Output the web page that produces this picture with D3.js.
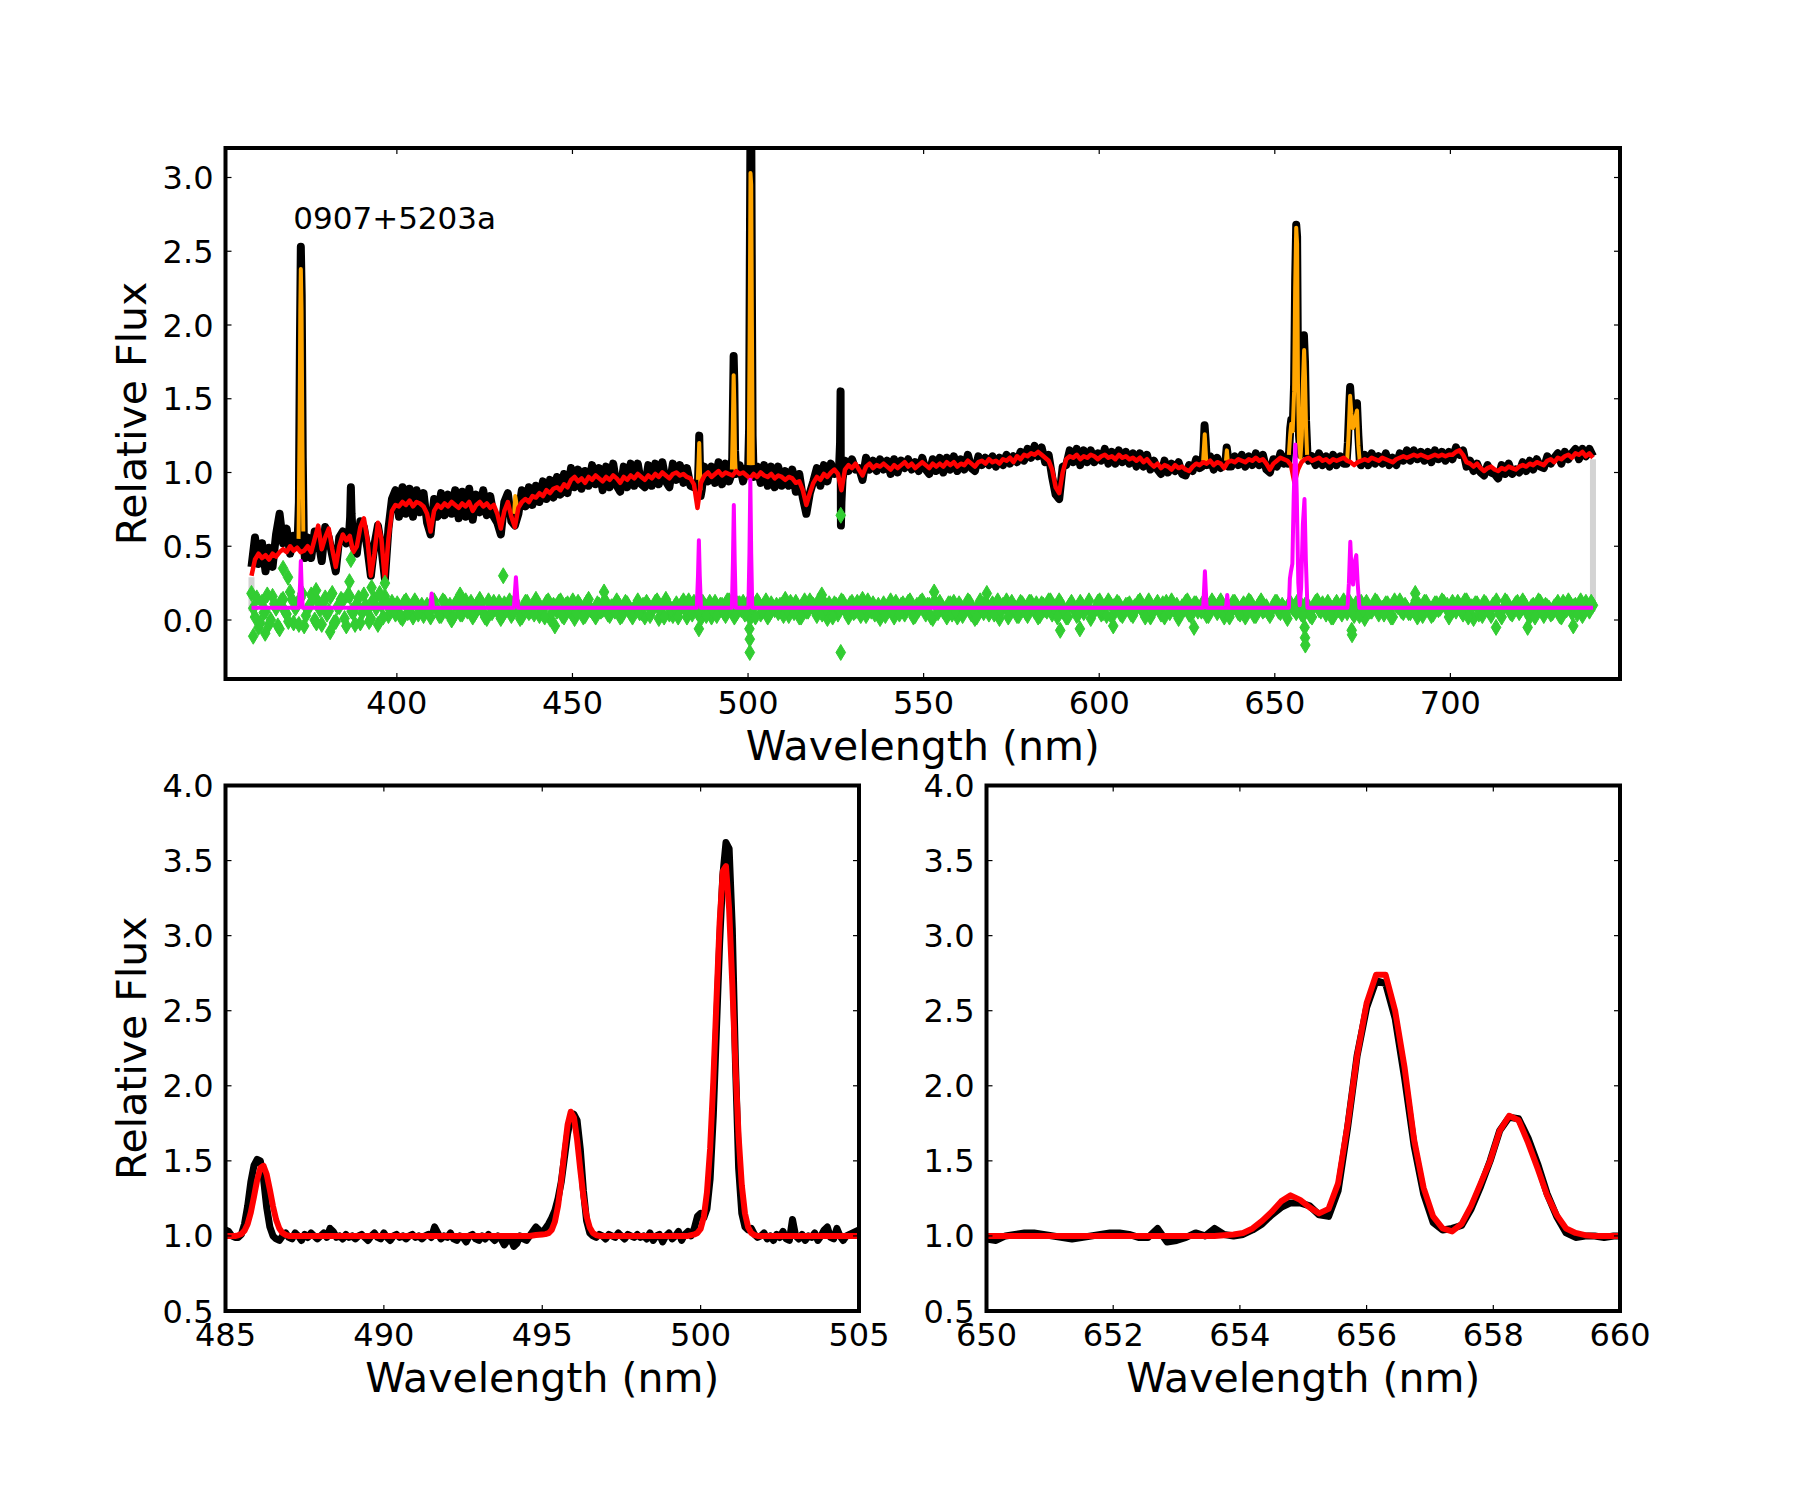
<!DOCTYPE html>
<html><head><meta charset="utf-8">
<script src="https://cdn.jsdelivr.net/npm/d3@7"></script>
<style>body{margin:0;background:#fff} text{font-family:"DejaVu Sans",sans-serif;fill:#000}</style>
</head><body><svg id="c" width="1800" height="1500"></svg>
<script>
// ---------------- DATA ----------------
const objectName = "0907+5203a";
const namePos = [370.5, 2.65];

// full spectrum, sampled every 1 nm from 358.6 nm
const waveStart = 358.6, waveStep = 1;
const observedFlux = [
0.36,0.56,0.38,0.52,0.33,0.49,0.36,0.58,0.72,0.52,
0.62,0.45,0.57,0.50,0.46,0.40,0.56,0.42,0.60,0.55,
0.40,0.63,0.56,0.44,0.33,0.56,0.60,0.52,0.62,0.50,
0.45,0.67,0.63,0.49,0.30,0.51,0.64,0.49,0.28,0.62,
0.82,0.88,0.70,0.90,0.72,0.89,0.70,0.88,0.73,0.86,
0.66,0.58,0.82,0.70,0.86,0.71,0.85,0.72,0.88,0.69,
0.87,0.70,0.89,0.68,0.85,0.73,0.88,0.71,0.84,0.70,
0.66,0.58,0.80,0.86,0.67,0.64,0.72,0.88,0.77,0.90,
0.78,0.91,0.80,0.94,0.82,0.95,0.83,0.97,0.85,0.99,
0.86,1.03,0.90,1.02,0.89,1.01,0.91,1.05,0.92,1.03,
0.88,1.04,0.90,1.06,0.91,0.87,1.04,0.90,1.06,0.91,
1.06,0.92,0.90,1.05,0.91,1.06,0.92,1.07,0.94,0.90,
1.06,0.95,1.05,0.93,1.03,0.91,0.90,0.86,0.89,1.04,
0.94,1.04,0.93,1.07,0.92,1.06,0.94,1.03,0.95,1.05,
0.94,1.03,0.95,0.92,1.04,0.93,1.05,0.91,1.04,0.90,
1.04,0.91,1.01,0.91,1.02,0.87,0.99,0.83,0.72,0.86,
0.94,1.03,0.91,1.05,0.94,1.06,0.99,1.04,0.85,1.08,
1.01,1.09,1.02,1.03,0.95,1.10,1.02,1.08,1.01,1.09,
1.02,1.08,0.99,1.09,1.00,1.08,1.03,1.09,1.02,1.07,
1.01,1.10,1.02,0.99,1.09,1.01,1.10,1.00,1.10,1.02,
1.11,1.01,1.09,1.02,1.12,1.03,1.01,1.11,1.05,1.10,
1.05,1.11,1.04,1.10,1.05,1.12,1.06,1.11,1.07,1.14,
1.08,1.16,1.10,1.18,1.11,1.17,1.07,1.12,0.97,0.85,
0.82,1.04,1.05,1.15,1.07,1.16,1.05,1.15,1.07,1.15,
1.07,1.13,1.08,1.16,1.06,1.14,1.06,1.15,1.07,1.14,
1.06,1.13,1.04,1.13,1.04,1.12,1.02,1.08,1.02,0.99,
1.08,1.00,1.06,1.01,1.07,0.99,0.98,1.05,1.01,1.09,
1.03,1.10,1.02,1.11,1.02,1.10,1.03,1.07,1.10,1.04,
1.11,1.05,1.12,1.04,1.11,1.05,1.13,1.05,1.12,1.02,
1.00,1.09,1.04,1.13,1.06,1.11,1.07,0.95,1.04,1.05,
1.12,1.06,1.11,1.05,1.13,1.05,1.11,1.04,1.12,1.05,
1.11,1.06,1.10,1.04,1.03,1.10,1.05,1.12,1.05,1.13,
1.06,1.11,1.06,1.13,1.05,1.10,1.05,1.13,1.08,1.15,
1.08,1.15,1.09,1.14,1.08,1.14,1.07,1.15,1.09,1.14,
1.08,1.14,1.09,1.17,1.12,1.15,1.04,1.08,1.01,1.06,
1.00,0.98,1.05,1.00,0.99,0.96,1.05,0.99,1.06,0.99,
1.02,1.00,1.07,1.01,1.08,1.02,1.09,1.04,1.03,1.11,
1.06,1.10,1.13,1.06,1.14,1.09,1.13,1.16,1.09,1.16,
1.11,1.16,1.11];

const modelFlux = [
0.30,0.41,0.45,0.42,0.44,0.41,0.45,0.43,0.46,0.48,
0.46,0.50,0.47,0.49,0.46,0.47,0.50,0.46,0.55,0.64,
0.48,0.56,0.62,0.48,0.36,0.50,0.58,0.54,0.57,0.46,
0.50,0.63,0.69,0.55,0.30,0.45,0.66,0.55,0.26,0.55,
0.74,0.78,0.77,0.80,0.78,0.81,0.77,0.80,0.79,0.77,
0.72,0.60,0.74,0.78,0.76,0.79,0.77,0.80,0.78,0.76,
0.79,0.77,0.80,0.74,0.78,0.80,0.77,0.79,0.76,0.78,
0.72,0.62,0.74,0.80,0.70,0.63,0.76,0.80,0.82,0.80,
0.84,0.83,0.86,0.84,0.88,0.86,0.89,0.90,0.88,0.92,
0.90,0.95,0.97,0.94,0.96,0.93,0.97,0.95,0.98,0.96,
0.94,0.97,0.95,0.98,0.96,0.93,0.97,0.95,0.98,0.96,
0.99,0.97,0.95,0.98,0.96,0.99,0.97,1.00,0.98,0.96,
0.99,1.00,0.98,0.99,0.97,0.96,0.92,0.76,0.93,0.98,
1.00,0.97,0.99,1.01,0.98,1.00,0.99,0.98,1.01,0.99,
1.00,0.98,0.96,0.99,0.97,1.00,0.98,0.97,0.99,0.96,
0.98,0.97,0.95,0.97,0.96,0.93,0.94,0.88,0.78,0.86,
0.93,0.97,0.95,0.99,0.97,1.00,1.02,0.99,0.88,1.02,
1.05,1.03,1.06,1.02,0.98,1.04,1.06,1.03,1.05,1.04,
1.06,1.04,1.02,1.05,1.03,1.05,1.07,1.04,1.06,1.03,
1.05,1.07,1.05,1.03,1.06,1.04,1.06,1.04,1.07,1.05,
1.07,1.04,1.06,1.05,1.08,1.06,1.04,1.07,1.08,1.06,
1.09,1.07,1.08,1.06,1.09,1.08,1.10,1.07,1.11,1.09,
1.12,1.11,1.13,1.12,1.14,1.12,1.10,1.08,1.02,0.90,
0.86,1.00,1.09,1.11,1.10,1.12,1.09,1.11,1.10,1.12,
1.11,1.09,1.11,1.12,1.10,1.11,1.09,1.12,1.10,1.11,
1.09,1.10,1.08,1.10,1.07,1.09,1.06,1.04,1.06,1.03,
1.05,1.04,1.02,1.05,1.03,1.04,1.02,1.01,1.04,1.06,
1.05,1.07,1.06,1.08,1.05,1.07,1.06,1.03,1.07,1.08,
1.07,1.09,1.08,1.07,1.09,1.08,1.10,1.08,1.09,1.06,
1.02,1.06,1.08,1.10,1.09,1.08,1.05,0.93,1.02,1.07,
1.09,1.10,1.08,1.09,1.10,1.08,1.09,1.07,1.09,1.08,
1.09,1.10,1.08,1.07,1.05,1.07,1.08,1.09,1.08,1.10,
1.09,1.08,1.10,1.09,1.08,1.07,1.09,1.10,1.11,1.10,
1.11,1.12,1.11,1.12,1.11,1.10,1.11,1.12,1.11,1.12,
1.11,1.12,1.12,1.14,1.15,1.12,1.07,1.06,1.04,1.06,
1.03,1.01,1.03,1.04,1.02,1.01,1.03,1.02,1.04,1.03,
1.02,1.04,1.05,1.04,1.06,1.05,1.07,1.06,1.05,1.08,
1.09,1.07,1.10,1.09,1.11,1.12,1.10,1.13,1.12,1.14,
1.11,1.13,1.10];

// residuals (offset), every 1 nm from 358.6 nm
const residual = [
0.18,0.02,-0.05,0.12,0.06,-0.03,0.16,0.08,-0.06,0.14,
0.04,0.19,-0.02,0.10,0.15,-0.04,0.07,0.17,0.00,0.12,
-0.03,0.15,0.06,0.18,-0.01,0.09,0.13,-0.04,0.16,0.05,
0.11,-0.02,0.17,0.07,0.01,0.14,-0.03,0.10,0.16,0.03,
0.12,0.04,0.09,0.01,0.13,0.06,0.02,0.11,0.07,0.03,
0.10,0.02,0.13,0.07,0.03,0.12,0.05,0.00,0.11,0.08,
0.04,0.13,0.08,0.02,0.10,0.14,0.05,0.01,0.09,0.12,
0.06,0.01,0.11,0.08,0.03,0.13,0.07,0.02,0.12,0.05,
0.09,0.14,0.03,0.07,0.12,0.01,0.10,0.06,0.13,0.02,
0.11,0.05,0.01,0.12,0.08,0.03,0.14,0.06,0.02,0.10,
0.07,0.12,0.03,0.09,0.13,0.02,0.06,0.11,0.04,0.08,
0.13,0.05,0.02,0.10,0.07,0.12,0.01,0.09,0.14,0.04,
0.03,0.11,0.07,0.13,0.02,0.08,0.12,0.05,0.01,0.10,
0.08,0.02,0.12,0.06,0.10,0.03,0.13,0.07,0.04,0.11,
0.12,0.06,0.01,0.09,0.13,0.04,0.08,0.02,0.11,0.07,
0.05,0.10,0.14,0.03,0.07,0.12,0.02,0.09,0.06,0.13,
0.10,0.03,0.08,0.12,0.01,0.06,0.11,0.04,0.13,0.07,
0.02,0.12,0.06,0.09,0.14,0.03,0.07,0.11,0.05,0.01,
0.11,0.07,0.13,0.02,0.08,0.10,0.04,0.12,0.06,0.03,
0.07,0.13,0.04,0.10,0.01,0.09,0.12,0.06,0.02,0.11,
0.12,0.02,0.09,0.06,0.13,0.04,0.01,0.10,0.07,0.12,
0.04,0.11,0.07,0.01,0.10,0.13,0.05,0.08,0.03,0.12,
0.09,0.03,0.12,0.06,0.02,0.11,0.07,0.13,0.04,0.08,
0.13,0.06,0.02,0.10,0.08,0.03,0.12,0.05,0.09,0.01,
0.06,0.12,0.04,0.09,0.13,0.02,0.07,0.11,0.03,0.10,
0.11,0.03,0.08,0.13,0.05,0.10,0.02,0.07,0.12,0.04,
0.02,0.10,0.13,0.06,0.01,0.09,0.12,0.04,0.08,0.11,
0.08,0.12,0.03,0.07,0.11,0.05,0.13,0.02,0.10,0.06,
0.12,0.05,0.09,0.02,0.13,0.07,0.03,0.11,0.06,0.09,
0.03,0.09,0.12,0.05,0.08,0.01,0.11,0.07,0.13,0.04,
0.10,0.06,0.02,0.12,0.07,0.11,0.04,0.09,0.02,0.12,
0.07,0.13,0.05,0.10,0.03,0.08,0.12,0.01,0.09,0.06,
0.13,0.04,0.08,0.11,0.06,0.02,0.10,0.13,0.05,0.08,
0.05,0.10,0.02,0.07,0.12,0.09,0.03,0.11,0.07,0.13,
0.09,0.02,0.12,0.06,0.10,0.04,0.13,0.07,0.01,0.11,
0.06,0.12,0.08,0.03,0.11,0.07,0.02,0.13,0.09,0.04,
0.11,0.05,0.13,0.08,0.02,0.10,0.06,0.12,0.03,0.09,
0.04,0.09,0.12,0.02,0.07,0.13,0.05,0.10,0.08,0.03,
0.12,0.06,0.10];

// residuals (offset) at the in-between pixels, every 1 nm from 359.1 nm
const residualMidStart = 359.1;
const residualMid = [
0.08,0.15,-0.02,0.05,0.17,0.00,0.11,-0.04,0.13,0.06,
-0.01,0.14,0.08,-0.03,0.18,0.03,0.10,0.15,-0.02,0.07,
0.12,0.04,0.16,-0.02,0.09,0.14,0.01,0.17,0.06,-0.03,
0.15,0.05,0.10,-0.01,0.13,0.08,0.18,0.02,0.11,0.07,
0.07,0.11,0.02,0.12,0.05,0.09,0.13,0.04,0.10,0.08,
0.05,0.12,0.08,0.03,0.13,0.06,0.10,0.02,0.12,0.04,
0.10,0.06,0.12,0.04,0.08,0.11,0.02,0.13,0.05,0.09,
0.12,0.03,0.07,0.13,0.05,0.10,0.01,0.08,0.12,0.06,
0.04,0.11,0.08,0.02,0.13,0.05,0.09,0.12,0.03,0.10,
0.08,0.13,0.05,0.10,0.02,0.12,0.07,0.04,0.11,0.06,
0.13,0.04,0.09,0.06,0.11,0.03,0.12,0.08,0.02,0.10,
0.05,0.10,0.12,0.03,0.08,0.13,0.06,0.02,0.11,0.07,
0.09,0.02,0.11,0.07,0.13,0.04,0.10,0.06,0.12,0.03,
0.12,0.06,0.03,0.10,0.05,0.13,0.08,0.02,0.11,0.07,
0.04,0.12,0.09,0.02,0.11,0.06,0.13,0.04,0.08,0.10,
0.10,0.03,0.07,0.12,0.05,0.09,0.02,0.13,0.06,0.11,
0.06,0.13,0.04,0.08,0.11,0.02,0.10,0.07,0.12,0.05,
0.11,0.05,0.12,0.03,0.09,0.13,0.06,0.04,0.10,0.08,
0.03,0.09,0.06,0.12,0.04,0.11,0.08,0.13,0.02,0.10,
0.12,0.07,0.10,0.02,0.13,0.05,0.09,0.06,0.11,0.04,
0.06,0.11,0.03,0.09,0.12,0.07,0.02,0.13,0.05,0.10,
0.09,0.04,0.13,0.06,0.10,0.02,0.12,0.08,0.03,0.11,
0.05,0.12,0.08,0.11,0.03,0.10,0.06,0.13,0.09,0.02,
0.11,0.06,0.02,0.12,0.07,0.04,0.10,0.08,0.13,0.05,
0.08,0.13,0.05,0.03,0.11,0.09,0.12,0.04,0.07,0.10,
0.04,0.09,0.12,0.07,0.02,0.13,0.05,0.10,0.08,0.11,
0.12,0.05,0.08,0.10,0.04,0.07,0.13,0.03,0.11,0.06,
0.06,0.10,0.03,0.13,0.08,0.11,0.05,0.09,0.02,0.12,
0.10,0.04,0.11,0.06,0.12,0.03,0.09,0.13,0.07,0.05,
0.07,0.12,0.06,0.10,0.04,0.11,0.08,0.05,0.12,0.03,
0.11,0.03,0.09,0.13,0.06,0.08,0.12,0.02,0.10,0.07,
0.04,0.10,0.13,0.05,0.11,0.03,0.07,0.12,0.06,0.09,
0.12,0.08,0.04,0.11,0.02,0.13,0.09,0.06,0.10,0.05,
0.07,0.13,0.10,0.03,0.12,0.06,0.04,0.11,0.08,0.12,
0.10,0.05,0.08,0.12,0.06,0.13,0.02,0.09,0.11,0.04,
0.03,0.11,0.06,0.10,0.13,0.04,0.08,0.12,0.05,0.09,
0.12,0.07,0.11,0.04,0.09,0.02,0.13,0.06,0.10,0.08,
0.05,0.10,0.03,0.12,0.07,0.11,0.09,0.04,0.13,0.06,
0.09,0.12];

// isolated residual points [wavelength, value]
const residualOutliers = [
[359.1,-0.11],[362.5,-0.09],[367.6,0.35],[369.0,0.29],[386.5,0.26],[386.9,0.41],
[392.8,0.22],[396.6,0.25],[430.3,0.30],[486.0,-0.06],[500.4,-0.06],[500.5,-0.13],
[500.5,-0.22],[526.4,0.71],[526.4,-0.22],[588.9,-0.07],[594.5,-0.06],[658.5,-0.05],
[658.6,-0.12],[658.7,-0.17],[671.9,-0.07],[672.0,-0.10],[459.0,0.19],[553.0,0.19],
[627.0,-0.05],[713.0,-0.05],[735.0,-0.04],[377.0,0.20],[381.0,-0.08],[418.0,0.17],
[445.0,-0.04],[521.0,0.17],[568.0,0.18],[604.0,-0.04],[690.0,0.18],[722.0,-0.05]];

// observed flux at emission lines (finer sampling) [wavelength, flux]
const observedLineWindows = [
[[371.7,0.50],[372.1,0.80],[372.4,1.90],[372.65,2.53],[372.9,2.20],[373.2,1.10],[373.5,0.55],[373.8,0.42]],
[[386.3,0.55],[386.7,0.70],[386.9,0.90],[387.1,0.72],[387.4,0.58]],
[[485.3,0.93],[485.7,0.90],[485.95,1.10],[486.1,1.25],[486.3,1.05],[486.5,0.84],[486.8,0.88],[487.1,0.94]],
[[495.2,0.98],[495.5,1.10],[495.7,1.45],[495.9,1.79],[496.1,1.60],[496.3,1.15],[496.6,0.99]],
[[500.0,1.00],[500.3,1.30],[500.5,2.40],[500.7,3.40],[500.9,3.45],[501.1,2.20],[501.3,1.25],[501.6,0.97]],
[[525.9,1.02],[526.2,1.20],[526.35,1.55],[526.45,0.64],[526.6,0.80],[526.9,0.95]],
[[629.3,1.04],[629.7,1.15],[630.0,1.32],[630.3,1.22],[630.7,1.05]],
[[635.9,1.06],[636.3,1.17],[636.6,1.12],[636.9,1.04]],
[[653.8,1.06],[654.1,1.15],[654.4,1.30],[654.7,1.36],[655.1,1.30],[655.5,1.60],[655.8,2.30],[656.1,2.68],[656.35,2.60],[656.6,1.70],[656.9,1.25],[657.3,1.12],[657.7,1.30],[658.0,1.70],[658.3,1.93],[658.6,1.75],[658.9,1.35],[659.3,1.12],[659.7,1.08]],
[[670.4,1.06],[670.8,1.20],[671.2,1.45],[671.45,1.58],[671.8,1.45],[672.2,1.34],[672.6,1.36],[673.0,1.42],[673.4,1.47],[673.8,1.25],[674.2,1.08],[674.5,1.05]]
];

// emission-line regions highlighted in orange
const emissionLineSegments = [
[[372.0,0.55],[372.3,1.30],[372.5,2.10],[372.65,2.38],[372.85,2.10],[373.1,1.20],[373.35,0.60]],
[[433.4,0.72],[433.7,0.84],[434.0,0.80],[434.2,0.70]],
[[485.7,0.95],[485.95,1.10],[486.1,1.20],[486.3,1.02],[486.45,0.88]],
[[495.4,1.02],[495.65,1.30],[495.9,1.66],[496.1,1.45],[496.3,1.10],[496.5,1.00]],
[[500.2,1.05],[500.45,1.90],[500.7,3.03],[500.9,2.95],[501.1,2.00],[501.35,1.05]],
[[629.6,1.08],[629.9,1.20],[630.05,1.26],[630.3,1.15],[630.5,1.07]],
[[636.1,1.08],[636.35,1.15],[636.6,1.08]],
[[654.0,1.12],[654.4,1.26],[654.7,1.33],[655.1,1.28],[655.5,1.55],[655.8,2.25],[656.1,2.66],[656.35,2.55],[656.6,1.60],[656.9,1.20],[657.3,1.10],[657.7,1.25],[658.0,1.60],[658.35,1.83],[658.6,1.65],[658.9,1.30],[659.2,1.12]],
[[670.6,1.08],[671.0,1.25],[671.45,1.52],[671.8,1.40],[672.2,1.30],[672.6,1.32],[673.0,1.38],[673.4,1.42],[673.8,1.18],[674.2,1.07]]
];

// emission-line model (offset) [wavelength, flux]
const emissionModel = [
[358.6,0.083],
[372.1,0.083],[372.45,0.25],[372.65,0.40],[372.85,0.25],[373.2,0.083],
[409.5,0.083],[409.9,0.18],[410.3,0.083],
[433.3,0.083],[433.65,0.20],[433.9,0.29],[434.15,0.20],[434.5,0.083],
[485.4,0.083],[485.75,0.30],[486.0,0.54],[486.25,0.30],[486.6,0.083],
[495.4,0.083],[495.7,0.40],[495.95,0.78],[496.2,0.40],[496.5,0.083],
[500.1,0.083],[500.4,0.45],[500.65,0.95],[500.9,0.45],[501.2,0.083],
[629.6,0.083],[629.85,0.20],[630.1,0.33],[630.35,0.20],[630.6,0.083],
[636.1,0.083],[636.45,0.17],[636.8,0.083],
[654.0,0.083],[654.3,0.28],[654.6,0.33],[655.0,0.38],[655.4,0.85],[655.85,1.19],[656.25,0.85],[656.7,0.25],[657.1,0.10],[657.5,0.22],[658.0,0.65],[658.45,0.82],[658.85,0.40],[659.3,0.083],
[670.7,0.083],[671.1,0.25],[671.5,0.53],[671.9,0.30],[672.3,0.24],[672.8,0.40],[673.2,0.44],[673.6,0.25],[674.1,0.083],
[740.6,0.083]];

// fit-range markers [wavelength, flux]
const fitRangeMarkers = [
[[358.6,0.06],[358.6,0.29]],
[[740.6,0.06],[740.6,1.09]]];

// zoom 1: Hbeta + [OIII], every 0.1 nm from 485.0
const zoom1Start = 485.0, zoom1Step = 0.1;
const zoom1Observed = [
1.04,1.03,1.00,0.99,0.99,1.01,1.08,1.20,1.36,1.47,
1.51,1.50,1.38,1.19,1.06,1.00,0.98,0.97,1.00,1.02,
0.99,0.98,1.02,1.00,0.97,1.01,0.99,1.02,1.00,0.98,
1.00,1.02,0.99,1.05,1.03,0.99,1.00,0.98,1.01,0.99,
1.00,0.98,1.00,1.01,0.99,0.97,1.00,1.02,0.99,0.98,
1.02,0.99,0.97,1.00,1.01,0.99,1.00,0.98,1.00,1.01,
0.99,1.00,0.98,1.00,1.01,0.99,1.06,1.02,0.98,1.00,
0.99,1.02,0.98,0.97,1.00,0.99,0.96,1.00,1.01,0.98,
0.97,1.00,0.98,1.01,0.99,0.97,1.00,0.98,0.94,0.97,
0.99,0.93,0.95,1.00,0.98,0.97,1.00,1.03,1.06,1.04,
1.02,1.05,1.08,1.12,1.17,1.25,1.36,1.52,1.68,1.78,
1.81,1.77,1.58,1.30,1.10,1.02,1.00,0.99,1.01,1.00,
0.98,1.01,1.00,0.99,1.02,1.00,0.98,1.01,1.00,0.99,
1.01,0.99,1.00,0.98,1.02,0.97,1.00,1.01,0.96,1.00,
1.02,0.98,1.00,1.03,0.97,1.01,1.03,1.00,1.05,1.13,
1.15,1.12,1.18,1.38,1.80,2.38,2.95,3.40,3.62,3.58,
3.05,2.15,1.45,1.15,1.06,1.04,1.05,1.01,0.99,1.00,
1.02,0.98,1.00,0.97,1.01,0.99,1.03,0.98,0.97,1.11,
1.00,0.98,1.01,0.97,1.00,0.99,1.02,0.97,1.00,1.04,
1.06,0.99,0.98,1.05,1.00,0.97,1.00,1.01,1.02,1.03,
1.04];
const zoom1Model = [
1.00,1.00,1.00,1.00,1.004,1.013,1.035,1.080,1.157,1.262,
1.373,1.452,1.467,1.410,1.308,1.197,1.107,1.050,1.020,1.007,
1.00,1.00,1.00,1.00,1.00,1.00,1.00,1.00,1.00,1.00,
1.00,1.00,1.00,1.00,1.00,1.00,1.00,1.00,1.00,1.00,
1.00,1.00,1.00,1.00,1.00,1.00,1.00,1.00,1.00,1.00,
1.00,1.00,1.00,1.00,1.00,1.00,1.00,1.00,1.00,1.00,
1.00,1.00,1.00,1.00,1.00,1.00,1.00,1.00,1.00,1.00,
1.00,1.00,1.00,1.00,1.00,1.00,1.00,1.00,1.00,1.00,
1.00,1.00,1.00,1.00,1.00,1.00,1.00,1.00,1.00,1.00,
1.00,1.00,1.00,1.00,1.00,1.00,1.00,1.003,1.006,1.008,
1.010,1.012,1.018,1.040,1.095,1.202,1.366,1.564,1.740,1.827,
1.789,1.641,1.443,1.261,1.131,1.056,1.020,1.006,1.00,1.00,
1.00,1.00,1.00,1.00,1.00,1.00,1.00,1.00,1.00,1.00,
1.00,1.00,1.00,1.00,1.00,1.00,1.00,1.00,1.00,1.00,
1.00,1.00,1.00,1.00,1.00,1.00,1.00,1.005,1.010,1.020,
1.047,1.125,1.290,1.583,2.024,2.565,3.088,3.430,3.463,3.177,
2.678,2.126,1.660,1.337,1.150,1.058,1.020,1.006,1.00,1.00,
1.00,1.00,1.00,1.00,1.00,1.00,1.00,1.00,1.00,1.00,
1.00,1.00,1.00,1.00,1.00,1.00,1.00,1.00,1.00,1.00,
1.00,1.00,1.00,1.00,1.00,1.00,1.00,1.00,1.00,1.00,
1.00];

// zoom 2: Halpha + [NII], every 0.15 nm from 650.0
const zoom2Start = 650.0, zoom2Step = 0.15;
const zoom2Observed = [
0.98,0.97,1.00,1.01,1.02,1.02,1.01,
1.00,0.99,0.98,0.99,1.00,1.01,1.02,
1.02,1.01,0.99,0.99,1.05,0.96,
0.97,0.99,1.02,1.00,1.05,1.01,1.00,
1.01,1.04,1.08,1.14,1.19,1.22,1.22,
1.20,1.14,1.13,1.30,1.72,2.20,
2.52,2.70,2.68,2.45,2.05,1.60,1.28,
1.09,1.04,1.05,1.07,1.18,1.33,1.50,
1.70,1.79,1.78,1.65,1.48,1.28,
1.13,1.02,0.99,1.00,1.00,0.99,1.00,
1.00];
const zoom2Model = [
1.00,1.00,1.00,1.00,1.00,1.00,1.00,
1.00,1.00,1.00,1.00,1.00,1.00,1.00,
1.00,1.00,1.00,1.00,1.00,1.00,
1.00,1.00,1.00,1.00,1.00,1.005,1.01,
1.02,1.05,1.10,1.16,1.23,1.27,1.24,
1.19,1.15,1.18,1.35,1.74,2.20,
2.55,2.74,2.74,2.50,2.12,1.64,1.32,
1.13,1.05,1.03,1.08,1.20,1.35,1.50,
1.70,1.80,1.77,1.62,1.45,1.27,
1.14,1.05,1.02,1.005,1.00,1.00,1.00,
1.00];

// axis ticks
const topXTicks = [400,450,500,550,600,650,700];
const topYTicks = [0.0,0.5,1.0,1.5,2.0,2.5,3.0];
const zoom1XTicks = [485,490,495,500,505];
const zoom2XTicks = [650,652,654,656,658,660];
const zoomYTicks = [0.5,1.0,1.5,2.0,2.5,3.0,3.5,4.0];
const xLabel = "Wavelength (nm)";
const yLabel = "Relative Flux";

// ---------------- DRAWING ----------------
const svg = d3.select("#c");
svg.append("rect").attr("width",1800).attr("height",1500).attr("fill","#fff");
const defs = svg.append("defs");

function panel(id, xDom, xRng, yDom, yRng, xTicks, yTicks, xFmt, yFmt, showYLabel) {
  const x = d3.scaleLinear().domain(xDom).range(xRng);
  const y = d3.scaleLinear().domain(yDom).range(yRng);
  defs.append("clipPath").attr("id","clip-"+id).append("rect")
    .attr("x",xRng[0]).attr("y",yRng[1]).attr("width",xRng[1]-xRng[0]).attr("height",yRng[0]-yRng[1]);
  const g = svg.append("g");
  const plot = g.append("g").attr("clip-path","url(#clip-"+id+")");
  const axes = g.append("g");
  const draw = () => {
    const tl = 6;
    xTicks.forEach(t => {
      const px = x(t);
      axes.append("line").attr("x1",px).attr("x2",px).attr("y1",yRng[0]).attr("y2",yRng[0]-tl).attr("stroke","#000").attr("stroke-width",1.2);
      axes.append("line").attr("x1",px).attr("x2",px).attr("y1",yRng[1]).attr("y2",yRng[1]+tl).attr("stroke","#000").attr("stroke-width",1.2);
      axes.append("text").attr("x",px).attr("y",yRng[0]+35).attr("text-anchor","middle")
        .attr("font-size",32).text(xFmt(t));
    });
    yTicks.forEach(t => {
      const py = y(t);
      axes.append("line").attr("x1",xRng[0]).attr("x2",xRng[0]+tl).attr("y1",py).attr("y2",py).attr("stroke","#000").attr("stroke-width",1.2);
      axes.append("line").attr("x1",xRng[1]).attr("x2",xRng[1]-tl).attr("y1",py).attr("y2",py).attr("stroke","#000").attr("stroke-width",1.2);
      axes.append("text").attr("x",xRng[0]-12).attr("y",py+11.5).attr("text-anchor","end")
        .attr("font-size",32).text(yFmt(t));
    });
    axes.append("rect").attr("x",xRng[0]).attr("y",yRng[1]).attr("width",xRng[1]-xRng[0]).attr("height",yRng[0]-yRng[1])
      .attr("fill","none").attr("stroke","#000").attr("stroke-width",4);
    axes.append("text").attr("x",(xRng[0]+xRng[1])/2).attr("y",yRng[0]+81).attr("text-anchor","middle")
      .attr("font-size",41).text(xLabel);
    if (showYLabel) {
      const cy = (yRng[0]+yRng[1])/2;
      axes.append("text").attr("transform",`translate(146,${cy}) rotate(-90)`).attr("text-anchor","middle")
        .attr("font-size",41).text(yLabel);
    }
  };
  return {x, y, plot, draw};
}

const fmtInt = d3.format("d"), fmt1 = d3.format(".1f");

// ---- top panel ----
const P = panel("top", [351.2, 748.3], [225.5, 1620], [-0.4, 3.2], [679, 148],
  topXTicks, topYTicks, fmtInt, fmt1, true);
const lineP = d3.line().x(d => P.x(d[0])).y(d => P.y(d[1]));

fitRangeMarkers.forEach(seg => P.plot.append("path").attr("d", lineP(seg))
  .attr("fill","none").attr("stroke","#d3d3d3").attr("stroke-width",6));

const gridObs = observedFlux.map((v,i) => [waveStart + i*waveStep, v]);
let obsPts = gridObs.filter(p => !observedLineWindows.some(w => p[0] >= w[0][0] && p[0] <= w[w.length-1][0]));
observedLineWindows.forEach(w => obsPts = obsPts.concat(w));
obsPts.sort((a,b) => a[0]-b[0]);
P.plot.append("path").attr("d", lineP(obsPts)).attr("fill","none").attr("stroke","#000")
  .attr("stroke-width",8).attr("stroke-linejoin","round");

emissionLineSegments.forEach(seg => P.plot.append("path").attr("d", lineP(seg))
  .attr("fill","none").attr("stroke","#ffa500").attr("stroke-width",4).attr("stroke-linejoin","round"));

const modelPts = modelFlux.map((v,i) => [waveStart + i*waveStep, v]);
P.plot.append("path").attr("d", lineP(modelPts)).attr("fill","none").attr("stroke","#ff0000")
  .attr("stroke-width",4.5).attr("stroke-linejoin","round");

const resPts = residual.map((v,i) => [waveStart + i*waveStep, v])
  .concat(residualMid.map((v,i) => [residualMidStart + i*waveStep, v]))
  .concat(residualOutliers);
const diamond = "M0,-8L4.8,0L0,8L-4.8,0Z";
P.plot.append("g").selectAll("path").data(resPts).join("path")
  .attr("d", diamond).attr("transform", d => `translate(${P.x(d[0])},${P.y(d[1])})`)
  .attr("fill","#32cd32").attr("stroke","#32cd32").attr("stroke-width",1);

P.plot.append("path").attr("d", lineP(emissionModel)).attr("fill","none").attr("stroke","#ff00ff")
  .attr("stroke-width",4).attr("stroke-linejoin","round");

P.plot.append("text").attr("x",P.x(namePos[0])).attr("y",P.y(namePos[1])).attr("font-size",31).text(objectName);
P.draw();

// ---- zoom 1 ----
const Z1 = panel("z1", [485, 505], [225.5, 859], [0.5, 4.0], [1311, 785.5],
  zoom1XTicks, zoomYTicks, fmtInt, fmt1, true);
const lineZ1 = d3.line().x(d => Z1.x(d[0])).y(d => Z1.y(d[1]));
Z1.plot.append("path").attr("d", lineZ1(zoom1Observed.map((v,i)=>[zoom1Start+i*zoom1Step, v])))
  .attr("fill","none").attr("stroke","#000").attr("stroke-width",7).attr("stroke-linejoin","round");
Z1.plot.append("path").attr("d", lineZ1(zoom1Model.map((v,i)=>[zoom1Start+i*zoom1Step, v])))
  .attr("fill","none").attr("stroke","#ff0000").attr("stroke-width",6).attr("stroke-linejoin","round");
Z1.draw();

// ---- zoom 2 ----
const Z2 = panel("z2", [650, 660], [986.5, 1620], [0.5, 4.0], [1311, 785.5],
  zoom2XTicks, zoomYTicks, fmtInt, fmt1, false);
const lineZ2 = d3.line().x(d => Z2.x(d[0])).y(d => Z2.y(d[1]));
Z2.plot.append("path").attr("d", lineZ2(zoom2Observed.map((v,i)=>[zoom2Start+i*zoom2Step, v])))
  .attr("fill","none").attr("stroke","#000").attr("stroke-width",7).attr("stroke-linejoin","round");
Z2.plot.append("path").attr("d", lineZ2(zoom2Model.map((v,i)=>[zoom2Start+i*zoom2Step, v])))
  .attr("fill","none").attr("stroke","#ff0000").attr("stroke-width",6).attr("stroke-linejoin","round");
Z2.draw();
</script></body></html>
